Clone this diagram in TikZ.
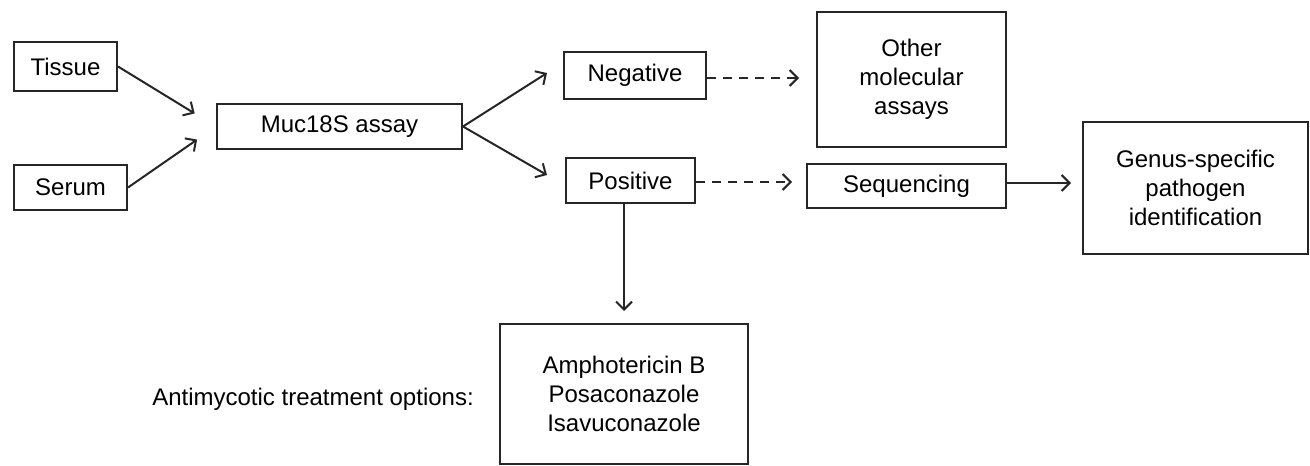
\documentclass[tikz,border=0pt]{standalone}
\usepackage{fontspec}
\setmainfont{Liberation Sans}
\usetikzlibrary{arrows.meta,positioning,calc}

\begin{document}
\begin{tikzpicture}[x=1pt,y=-1pt,
  font=\fontsize{24}{29}\selectfont,
  box/.style={draw=black!85,line width=2pt,inner sep=0pt,align=center},
  arr/.style={draw=black!85,line width=2pt,-{Straight Barb[length=8pt,width=16pt]}},
  dasharr/.style={arr,dash pattern=on 9pt off 7pt}]
\useasboundingbox (0,0) rectangle (1310,466);
% inputs
\node[box,minimum width=103pt,minimum height=49pt] (tissue) at (65.5,66.5) {Tissue};
\node[box,minimum width=113pt,minimum height=45pt] (serum) at (70.5,187.5) {Serum};
\node[box,minimum width=245pt,minimum height=45pt] (muc) at (339.5,126.5) {Muc18S assay};
% results
\node[box,minimum width=142pt,minimum height=47pt] (neg) at (635,75.5) {Negative};
\node[box,minimum width=129pt,minimum height=45pt] (pos) at (630.5,180.5) {Positive};
\node[box,minimum width=189pt,minimum height=135pt] (other) at (911.5,79.5) {Other\\molecular\\assays};
\node[box,minimum width=199pt,minimum height=44pt] (seq) at (906.5,186) {Sequencing};
\node[box,minimum width=225pt,minimum height=132pt] (genus) at (1195.5,188) {Genus-specific\\pathogen\\identification};
\node[box,minimum width=248pt,minimum height=140pt] (treat) at (624,394) {Amphotericin B\\Posaconazole\\Isavuconazole};
\node (treatlbl) at (313,399) {Antimycotic treatment options:};
% connectors
\draw[arr,shorten >=25pt] (tissue.east) -- (muc.west);
\draw[arr,shorten >=23pt] (serum.east) -- (muc.west);
\draw[arr] (muc.east) -- ([xshift=-16pt,yshift=2.5pt]neg.west);
\draw[arr] (muc.east) -- ([xshift=-18pt,yshift=5.5pt]pos.west);
\draw[dasharr,shorten >=17pt] ([yshift=-2.5pt]neg.east) -- ([yshift=-2.5pt]neg.east -| other.west);
\draw[dasharr,shorten >=14pt] ([yshift=-1.5pt]pos.east) -- ([yshift=-1.5pt]pos.east -| seq.west);
\draw[arr,shorten >=11pt] ([yshift=3pt]seq.east) -- ([yshift=3pt]seq.east -| genus.west);
\draw[arr,shorten >=12pt] (pos.south -| treat.north) -- (treat.north);
\end{tikzpicture}
\end{document}
